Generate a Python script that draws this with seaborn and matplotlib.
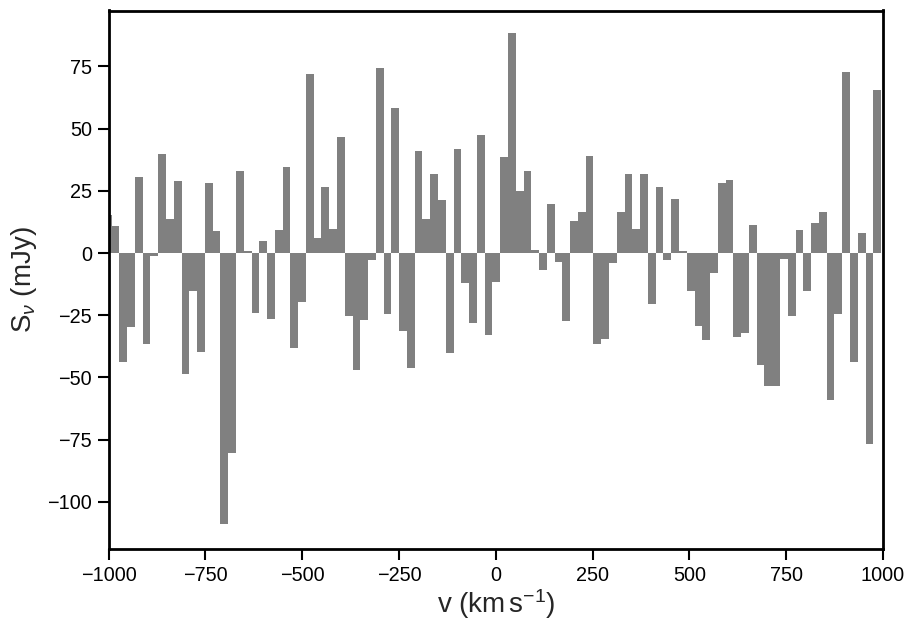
import numpy as np
import pandas as pd
import matplotlib
matplotlib.use("Agg")
import matplotlib.pyplot as plt
import seaborn as sns

# Channel grid (km/s)
v_start = -1002.0
dv = 20.07
n_chan = 100

# Flux density per channel (mJy)
flux = [
    15.3, 10.9, -43.8, -29.7, 30.6, -36.6, -1.1, 39.9, 13.7, 29.0,
    -48.7, -15.3, -39.9, 28.2, 8.9, -109.1, -80.5, 33.1, 0.8, -24.2,
    4.8, -26.6, 9.3, 34.7, -38.3, -19.8, 71.8, 6.0, 26.6, 9.7,
    46.8, -25.4, -47.0, -27.0, -2.8, 74.2, -24.6, 58.1, -31.5, -46.2,
    41.1, 13.7, 31.9, 21.4, -40.2, 41.9, -12.1, -28.2, 47.6, -33.1,
    -11.7, 38.7, 88.3, 25.0, 33.1, 1.2, -6.9, 19.8, -3.6, -27.4,
    12.9, 16.5, 39.1, -36.7, -34.7, -4.0, 16.5, 31.9, 9.7, 31.9,
    -20.6, 26.6, -2.8, 21.8, 0.8, -15.3, -29.4, -35.1, -8.1, 28.2,
    29.4, -33.9, -32.3, 11.3, -45.2, -53.5, -53.5, -2.4, -25.4, 9.3,
    -15.3, 12.1, 16.5, -58.9, -24.6, 72.6, -44.0, 8.1, -76.6, 65.7,
]

xticks = [-1000, -750, -500, -250, 0, 250, 500, 750, 1000]
yticks = [-100, -75, -50, -25, 0, 25, 50, 75]

velocity = v_start + dv * np.arange(n_chan)
df = pd.DataFrame({"v": velocity, "S": flux})

sns.set_style("ticks")
plt.rcParams["font.family"] = ["Liberation Sans", "DejaVu Sans"]
plt.rcParams["mathtext.fontset"] = "custom"
plt.rcParams["mathtext.rm"] = "Liberation Sans"
plt.rcParams["mathtext.it"] = "Liberation Sans:italic"
plt.rcParams["mathtext.sf"] = "Liberation Sans"

fig = plt.figure(figsize=(9.16, 6.29), dpi=100)
ax = fig.add_axes([108.5 / 916, 1 - 549 / 629, (883 - 108.5) / 916, (549 - 10.5) / 629])

sns.barplot(data=df, x="v", y="S", native_scale=True, width=1.0,
            color="#808080", saturation=1, errorbar=None, linewidth=0,
            ax=ax)

ax.set_xlim(-1000, 1000)
ax.set_ylim(-119, 97.5)
ax.set_xticks(xticks)
ax.set_yticks(yticks)
ax.tick_params(direction="out", length=8, width=1.5, labelsize=14.3,
               color="black", labelcolor="black", pad=4)
for sp in ax.spines.values():
    sp.set_linewidth(2)
    sp.set_color("black")
    sp.set_visible(True)

ax.set_xlabel(r"v (km$\,$s$^{-1}$)", fontsize=20, labelpad=2)
ax.set_ylabel(r"S$_\nu$ (mJy)", fontsize=20, labelpad=6)

fig.savefig("out.png", dpi=100)
